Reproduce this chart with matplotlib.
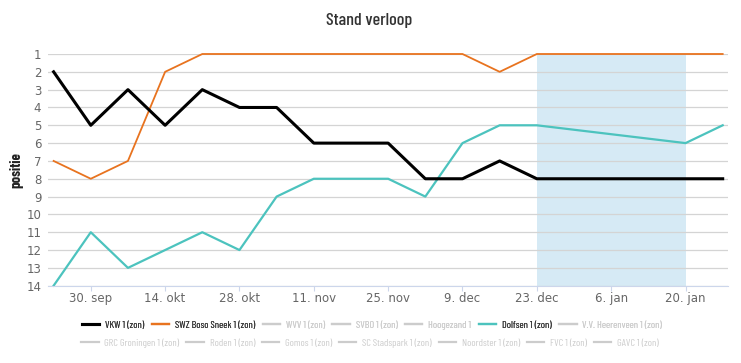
import datetime as dt
import matplotlib
matplotlib.use('Agg')
import matplotlib.pyplot as plt
from matplotlib.lines import Line2D

NARROW = ['Barlow Condensed', 'DejaVu Sans']

# match dates (weekly, winter break between 23 dec and 20 jan)
dates = [dt.date(2019, 9, 23) + dt.timedelta(weeks=i) for i in range(14)]
dates += [dt.date(2020, 1, 20), dt.date(2020, 1, 27)]

vkw = [2, 5, 3, 5, 3, 4, 4, 6, 6, 6, 8, 8, 7, 8, 8, 8]
swz = [7, 8, 7, 2, 1, 1, 1, 1, 1, 1, 1, 1, 2, 1, 1, 1]
dolfsen = [14, 11, 13, 12, 11, 12, 9, 8, 8, 8, 9, 6, 5, 5, 6, 5]

break_start = dt.date(2019, 12, 23)
break_end = dt.date(2020, 1, 20)

tick_dates = [dt.date(2019, 9, 30) + dt.timedelta(weeks=2 * i) for i in range(9)]
tick_labels = ['30. sep', '14. okt', '28. okt', '11. nov', '25. nov',
               '9. dec', '23. dec', '6. jan', '20. jan']

legend_row1 = [('VKW 1 (zon)', '#000000', True),
               ('SWZ Boso Sneek 1 (zon)', '#e8731f', True),
               ('WVV 1 (zon)', '#cccccc', False),
               ('SVBO 1 (zon)', '#cccccc', False),
               ('Hoogezand 1', '#cccccc', False),
               ('Dolfsen 1 (zon)', '#4cc3be', True),
               ('V.V. Heerenveen 1 (zon)', '#cccccc', False)]
legend_row2 = ['GRC Groningen 1 (zon)', 'Roden 1 (zon)', 'Gomos 1 (zon)',
               'SC Stadspark 1 (zon)', 'Noordster 1 (zon)', 'FVC 1 (zon)',
               'GAVC 1 (zon)']


def main():
    fig = plt.figure(figsize=(7.41, 3.63), dpi=100)
    ax = fig.add_axes([48.3 / 741, 1 - 285.7 / 363, (728 - 48.3) / 741, (285.7 - 54) / 363])

    ax.axvspan(break_start, break_end, color='#d6eaf5', zorder=0, lw=0)

    ax.plot(dates, swz, color='#e8731f', lw=1.3, clip_on=False, zorder=3)
    ax.plot(dates, dolfsen, color='#4cc3be', lw=1.6, clip_on=False, zorder=3)
    ax.plot(dates, vkw, color='#000000', lw=2.2, clip_on=False, zorder=4)

    ax.set_ylim(14, 1)
    ax.set_yticks(range(1, 15))
    ax.set_xlim(dt.date(2019, 9, 23) - dt.timedelta(days=1.4),
                dt.date(2020, 1, 27) + dt.timedelta(days=1.2))
    ax.set_xticks(tick_dates)
    ax.set_xticklabels(tick_labels)

    ax.grid(axis='y', color='#d4d4d4', lw=0.9)
    ax.set_axisbelow(True)
    for s in ['top', 'right', 'left']:
        ax.spines[s].set_visible(False)
    ax.spines['bottom'].set_color('#ccd6eb')
    ax.spines['bottom'].set_zorder(5)
    ax.tick_params(axis='y', length=0, pad=5, labelsize=8.5, labelcolor='#666666')
    ax.tick_params(axis='x', length=3.6, color='#ccd6eb', pad=1, labelsize=8.5,
                   labelcolor='#666666')

    ax.set_ylabel('positie', fontsize=10.5, fontweight='bold', color='#222222',
                  family=NARROW, labelpad=2)

    fig.text(0.498, 1 - 20 / 363, 'Stand verloop', ha='center', va='center',
             fontsize=13, fontweight='medium', color='#333333', family=NARROW)

    leg_kw = dict(ncol=7, loc='center', frameon=False, handlelength=1.7,
                  handletextpad=0.55)
    prop = {'family': NARROW, 'size': 7.4}

    h1 = [Line2D([], [], color=c, lw=2.2 if i == 0 else 1.6)
          for i, (_, c, _) in enumerate(legend_row1)]
    leg1 = fig.legend(h1, [t for t, _, _ in legend_row1], columnspacing=0.74,
                      bbox_to_anchor=(0.502, 1 - 325 / 363), prop=prop, **leg_kw)
    for txt, (_, _, on) in zip(leg1.get_texts(), legend_row1):
        txt.set_color('#333333' if on else '#cccccc')

    h2 = [Line2D([], [], color='#cccccc', lw=1.6) for _ in legend_row2]
    leg2 = fig.legend(h2, legend_row2, columnspacing=0.66,
                      bbox_to_anchor=(0.4992, 1 - 343 / 363), prop=prop, **leg_kw)
    for txt in leg2.get_texts():
        txt.set_color('#cccccc')
    fig.add_artist(leg1)

    fig.savefig('out.png', dpi=100)


if __name__ == '__main__':
    main()
